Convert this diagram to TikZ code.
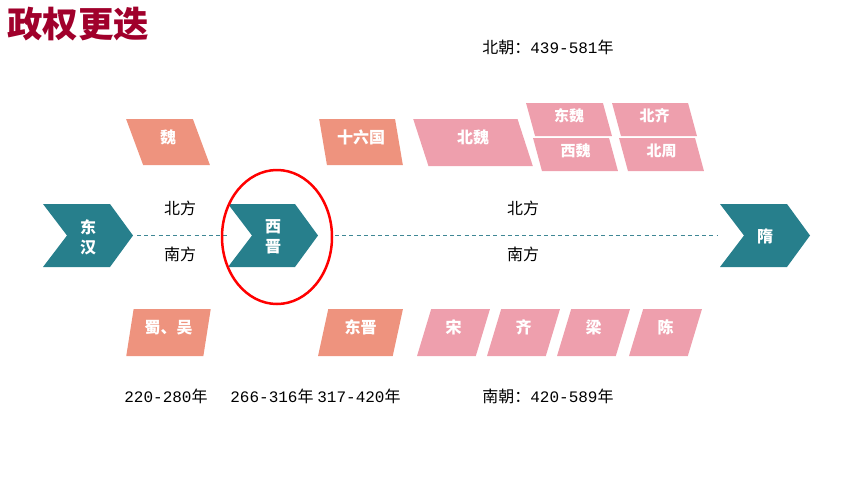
\documentclass[tikz,border=0pt]{standalone}
\usepackage{fontspec}
\setmainfont{Noto Sans CJK SC}
\newfontfamily\numfont{Liberation Mono}
\usetikzlibrary{shapes.geometric}

\definecolor{titlered}{HTML}{A0002B}
\definecolor{chevteal}{HTML}{277F8C}
\definecolor{linegray}{HTML}{3F8795}
\definecolor{salmon}{HTML}{EE937E}
\definecolor{rosy}{HTML}{EE9FAD}

\begin{document}
\begin{tikzpicture}[x=1pt, y=-1pt,
		chevron/.pic={
			\fill[chevteal] (-45,-31.5) -- (22,-31.5) -- (45,0) -- (22,31.5) -- (-45,31.5) -- (-21,0) -- cycle;
			\coordinate (-tip) at (45,0);
			\coordinate (-back) at (-45,0);
		},
		chevtext/.style={text=white, align=center, font=\fontsize{16}{20}\selectfont\bfseries},
		plain/.style={font=\fontsize{16}{18}\selectfont},
		years/.style={font=\fontsize{16}{18}\selectfont},
		pbox/.style={trapezium, trapezium stretches=true, inner sep=0pt, text=white,
			text height=12pt, text depth=10pt, font=\fontsize{16}{18}\selectfont\bfseries},
		nbox/.style={pbox, trapezium left angle=104, trapezium right angle=76},
		sbox/.style={pbox, trapezium left angle=77, trapezium right angle=103},
		smallbox/.style={nbox, fill=rosy, minimum width=85pt, minimum height=33pt,
			text height=10pt, text depth=6pt, font=\fontsize{15}{17}\selectfont\bfseries},
		dashline/.style={linegray, line width=1.1pt, dash pattern=on 4pt off 3.2pt}]

		\useasboundingbox (0,0) rectangle (860,485);

		\node[anchor=west, inner sep=0pt, text=titlered, font=\fontsize{35.5}{36}\selectfont\bfseries] (title) at (7,24) {政权更迭};

		% timeline
		\pic (dh) at (88,235.5) {chevron};
		\pic (xj) at (273,235.5) {chevron};
		\pic (sui) at (765,235.5) {chevron};
		\node[chevtext] (dhtext) at (88,237) {东\\汉};
		\node[chevtext] (xjtext) at (273,237) {西\\晋};
		\node[chevtext] (suitext) at (765,236) {隋};

		\draw[dashline] ([xshift=4pt]dh-tip) -- (xj-back);
		\draw[dashline] ([xshift=17pt]xj-tip) -- ([xshift=-2pt]sui-back);

		\node[plain] (north1) at (180,208) {北方};
		\node[plain] (south1) at (180,254) {南方};
		\node[plain] (north2) at (523,208) {北方};
		\node[plain] (south2) at (523,254) {南方};

		% north
		\node[nbox, fill=salmon, minimum width=84pt, minimum height=46pt] (wei) at (168,142) {魏};
		\node[nbox, fill=salmon, minimum width=84pt, minimum height=46pt] (sixteen) at (361,142) {十六国};
		\node[nbox, fill=rosy, minimum width=120pt, minimum height=47pt] (beiwei) at (473,142.5) {北魏};
		\node[smallbox, minimum width=86pt] (dongwei) at (569,119.5) {东魏};
		\node[smallbox] (beiqi) at (654.5,119.5) {北齐};
		\node[smallbox] (xiwei) at (575.5,154.5) {西魏};
		\node[smallbox] (beizhou) at (661.5,154.5) {北周};

		% south
		\node[sbox, fill=salmon, minimum width=85pt, minimum height=47pt] (shuwu) at (168.5,332.5) {蜀、吴};
		\node[sbox, fill=salmon, minimum width=85pt, minimum height=47pt] (dongjin) at (360.5,332.5) {东晋};
		\node[sbox, fill=rosy, minimum width=73pt, minimum height=47pt] (song) at (453.5,332.5) {宋};
		\node[sbox, fill=rosy, minimum width=73pt, minimum height=47pt] (qi) at (523.5,332.5) {齐};
		\node[sbox, fill=rosy, minimum width=73pt, minimum height=47pt] (liang) at (593.5,332.5) {梁};
		\node[sbox, fill=rosy, minimum width=73pt, minimum height=47pt] (chen) at (665.5,332.5) {陈};

		% years
		\node[years] (beichao) at (548,47) {北朝：{\numfont 439-581}年};
		\node[years] (sanguo) at (166,396) {{\numfont 220-280}年};
		\node[years] (xijin) at (272,396) {{\numfont 266-316}年};
		\node[years] (dongjinyr) at (359,396) {{\numfont 317-420}年};
		\node[years] (nanchao) at (548,396) {南朝：{\numfont 420-589}年};

		\node[draw=red, line width=2.5pt, ellipse, inner sep=0pt, minimum width=110pt, minimum height=134pt] (ring) at (277,237) {};
	\end{tikzpicture}
\end{document}
